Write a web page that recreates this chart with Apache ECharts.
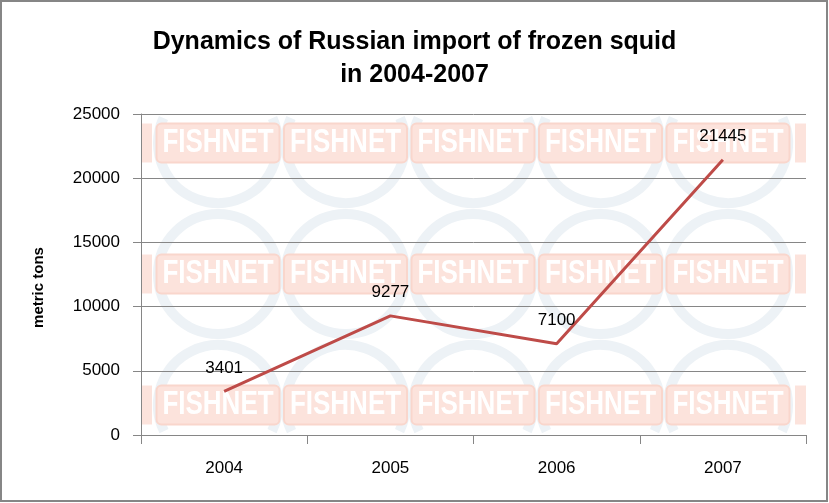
<!DOCTYPE html>
<html>
<head>
<meta charset="utf-8">
<script src="https://cdn.jsdelivr.net/npm/echarts@6/dist/echarts.min.js"></script>
<style>
html,body{margin:0;padding:0;background:#fff;}
#chart{width:829px;height:503px;}
</style>
</head>
<body>
<div id="chart"></div>
<script>
var years = ['2004', '2005', '2006', '2007'];
var importTons = [3401, 9277, 7100, 21445];
var yTicks = [0, 5000, 10000, 15000, 20000, 25000];

var FONT = "'Liberation Sans', Arial, sans-serif";
var chart = echarts.init(document.getElementById('chart'), null, {renderer: 'canvas'});

// decorative watermark (background logo pattern)
var wm = [];
var bxs = [218, 345.5, 473, 600.5, 728];
var bys = [143, 274, 405];
bys.forEach(function (cy, ri) {
  bxs.forEach(function (cx) {
    var sa = 0, ea = Math.PI * 2;
    if (ri === 0) { sa = -0.43; ea = Math.PI + 0.43; }
    if (ri === 2) { sa = Math.PI - 0.45; ea = Math.PI * 2 + 0.45; }
    wm.push({type: 'arc', z: -10, silent: true,
      shape: {cx: cx, cy: cy, r: 60, startAngle: sa, endAngle: ea, clockwise: true},
      style: {stroke: '#edf2f6', lineWidth: 10, fill: null}});
    wm.push({type: 'rect', z: -9, silent: true,
      shape: {x: cx - 61.5, y: cy - 19.5, width: 123, height: 39, r: 5},
      style: {fill: '#fce3dc', stroke: '#f9d6cc', lineWidth: 2}});
    wm.push({type: 'text', z: -8, silent: true, x: cx, y: cy, scaleY: 1.25,
      style: {text: 'FISHNET', fill: '#ffffff', font: 'bold 26px ' + FONT,
        align: 'center', verticalAlign: 'middle'}});
  });
  wm.push({type: 'rect', z: -9, silent: true,
    shape: {x: 141, y: cy - 19.5, width: 11, height: 39},
    style: {fill: '#fce3dc'}});
  wm.push({type: 'rect', z: -9, silent: true,
    shape: {x: 795, y: cy - 19.5, width: 11, height: 39},
    style: {fill: '#fce3dc'}});
});
wm.push({type: 'rect', z: 100, silent: true,
  shape: {x: 1, y: 1, width: 826, height: 500},
  style: {fill: null, stroke: '#868686', lineWidth: 2}});

var option = {
  backgroundColor: '#ffffff',
  animation: false,
  title: {
    text: 'Dynamics of Russian import of frozen squid\nin 2004-2007',
    left: 'center',
    top: 21,
    textStyle: {fontFamily: FONT, fontSize: 25, fontWeight: 'bold', color: '#000', lineHeight: 33}
  },
  grid: {left: 141, right: 23, top: 114, bottom: 68, containLabel: false},
  xAxis: {
    type: 'category',
    data: years,
    boundaryGap: true,
    axisLine: {lineStyle: {color: '#868686', width: 1}},
    axisTick: {show: true, length: 9, lineStyle: {color: '#868686'}},
    axisLabel: {color: '#000', fontFamily: FONT, fontSize: 17, margin: 25}
  },
  yAxis: {
    type: 'value',
    min: yTicks[0],
    max: yTicks[yTicks.length - 1],
    interval: yTicks[1] - yTicks[0],
    name: 'metric tons',
    nameLocation: 'middle',
    nameRotate: 90,
    nameGap: 95,
    nameTextStyle: {color: '#000', fontFamily: FONT, fontSize: 15, fontWeight: 'bold', padding: [0, 26, 0, 0]},
    axisLine: {show: true, lineStyle: {color: '#868686', width: 1}},
    axisTick: {show: true, length: 8, lineStyle: {color: '#868686'}},
    splitLine: {show: true, lineStyle: {color: '#868686', width: 1}},
    axisLabel: {color: '#000', fontFamily: FONT, fontSize: 17, margin: 21,
      formatter: function (v) { return String(v); }}
  },
  series: [{
    type: 'line',
    data: importTons,
    symbol: 'circle',
    symbolSize: 0,
    showSymbol: true,
    lineStyle: {color: '#BE4B48', width: 3},
    itemStyle: {color: '#BE4B48'},
    label: {show: true, position: 'top', distance: 15, color: '#000', fontFamily: FONT, fontSize: 17},
    z: 5
  }],
  graphic: wm
};
chart.setOption(option);
</script>
</body>
</html>
